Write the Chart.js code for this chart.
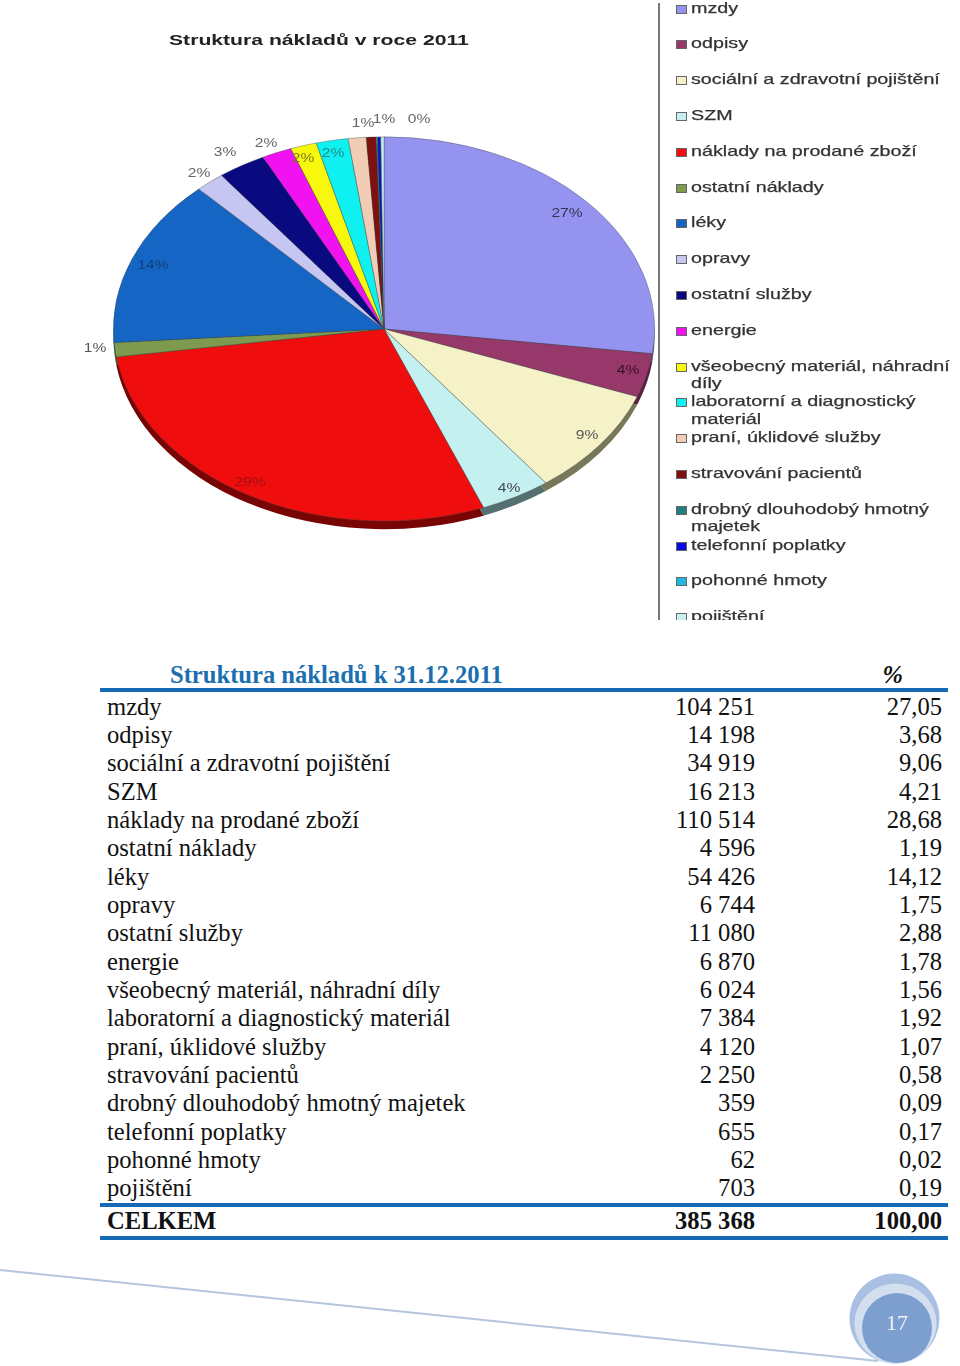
<!DOCTYPE html>
<html lang="cs">
<head>
<meta charset="utf-8">
<title>Struktura nákladů</title>
<script src="https://cdn.jsdelivr.net/npm/chart.js@4"></script>
<style>
    html, body { margin: 0; padding: 0; background: #fff; }
    #page { position: relative; width: 960px; height: 1366px; overflow: hidden; }
    #chartBox { position: absolute; left: 0; top: 0; width: 960px; height: 620px; overflow: hidden; filter: blur(0.45px); }
    #pie { position: absolute; left: 0; top: 0; }
    #divider { position: absolute; left: 658px; top: 3px; width: 2px; height: 617px; background: #777; }
    #pieTitle { position: absolute; left: 169px; top: 31px; font: bold 15px "Liberation Sans", sans-serif; color: #222; white-space: nowrap; transform: scaleX(1.41); transform-origin: left top; }
    .legendRow { position: absolute; left: 676px; height: 36px; font: 14.5px/17.6px "Liberation Sans", sans-serif; color: #333; -webkit-text-stroke: 0.25px #333; }
    .legendRow i { position: absolute; left: 0; top: 5px; width: 9px; height: 7px; border: 1px solid #666; }
    .legendRow span { position: absolute; left: 15px; top: 0; width: 192px; transform: scaleX(1.36); transform-origin: left top; }
    .row { position: absolute; left: 0; width: 960px; height: 28px; font: 24.6px/28px "Liberation Serif", serif; color: #111; white-space: nowrap; }
    .row b, .row u, .row s { position: absolute; top: 0; font-weight: inherit; text-decoration: none; }
    .row b { left: 107px; }
    .row u { right: 205px; }
    .row s { right: 18px; }
    .bold { font-weight: bold; }
    .rule { position: absolute; left: 100px; width: 848px; height: 4px; background: #1669b4; }
    #footer { position: absolute; left: 0; top: 0; }
</style>
</head>
<body>
<div id="page">
    <div id="chartBox">
        <canvas id="pie" width="660" height="620"></canvas>
        <div id="divider"></div>
        <div id="pieTitle">Struktura nákladů v roce 2011</div>
        <div id="legend"></div>
    </div>
    <div id="table"></div>
    <svg id="footer" width="960" height="1366">
        <line x1="0" y1="1270" x2="878" y2="1361" stroke="#b4c6dd" stroke-width="2"/>
        <ellipse cx="894.5" cy="1318.5" rx="45" ry="45" fill="#a9c0e2"/>
        <ellipse cx="895.5" cy="1323.5" rx="41" ry="40" fill="#d3dfef"/>
        <circle cx="897" cy="1328" r="35" fill="#7c9fcf"/>
        <text x="897" y="1330" text-anchor="middle" font-family="Liberation Serif" font-size="22" fill="#eef3fa">17</text>
    </svg>
</div>

<script>
const categories = ["mzdy", "odpisy", "sociální a zdravotní pojištění", "SZM", "náklady na prodané zboží",
    "ostatní náklady", "léky", "opravy", "ostatní služby", "energie", "všeobecný materiál, náhradní díly",
    "laboratorní a diagnostický materiál", "praní, úklidové služby", "stravování pacientů",
    "drobný dlouhodobý hmotný majetek", "telefonní poplatky", "pohonné hmoty", "pojištění"];
const costs = [104251, 14198, 34919, 16213, 110514, 4596, 54426, 6744, 11080, 6870, 6024, 7384, 4120, 2250, 359, 655, 62, 703];
const percents = [27.05, 3.68, 9.06, 4.21, 28.68, 1.19, 14.12, 1.75, 2.88, 1.78, 1.56, 1.92, 1.07, 0.58, 0.09, 0.17, 0.02, 0.19];
const totalCost = 385368;
const totalPercent = 100;

const sliceColors = ["#9494f0", "#96386a", "#f5f2c8", "#c4f0f0", "#f00d0d", "#7e9a4e", "#1565c4", "#c6c6f2", "#0a0a80",
    "#f012f0", "#f8f80f", "#0ff0f0", "#f0cdb4", "#7f1010", "#1f7f80", "#0a0ae0", "#20b8e0", "#c8f0f0"];
const rimColors = ["#55558a", "#5a2040", "#77775a", "#557070", "#780404", "#4a5a30", "#0c3a70", "#70708a", "#050540",
    "#800a80", "#808008", "#088080", "#806a5a", "#400808", "#104040", "#050570", "#106070", "#607878"];

// text, x, y, colour of the percent labels round the pie
const pieLabels = [
    ["27%", 567, 213, "#33335a"], ["4%", 628, 370, "#3a1028"], ["9%", 587, 435, "#555"], ["4%", 509, 488, "#445"],
    ["29%", 250, 482, "#a01010"], ["1%", 95, 348, "#555"], ["14%", 153, 265, "#123f7a"], ["2%", 199, 173, "#666"],
    ["3%", 225, 152, "#666"], ["2%", 266, 143, "#666"], ["2%", 303, 158, "#7a7a20"], ["2%", 333, 153, "#208a8a"],
    ["1%", 363, 123, "#666"], ["1%", 384, 119, "#666"], ["0%", 419, 119, "#666"]
];

const pieSquash = 0.71;
const pieDrop = 3;
const rimDepth = 8;

function squash(ctx, arc, extraY) {
    const cy = arc.y;
    ctx.translate(0, cy + pieDrop + extraY);
    ctx.scale(1, pieSquash);
    ctx.translate(0, -cy);
}

// chart.js only draws round pies, this one is tilted with a rim under it
const tiltPlugin = {
    id: "tilt",
    beforeDatasetsDraw(chart) {
        const ctx = chart.ctx;
        const arcs = chart.getDatasetMeta(0).data;
        ctx.save();
        squash(ctx, arcs[0], rimDepth);
        arcs.forEach((arc, i) => {
            const saved = arc.options;
            arc.options = Object.assign({}, saved, { backgroundColor: rimColors[i], borderWidth: 0 });
            arc.draw(ctx);
            arc.options = saved;
        });
        ctx.restore();
        ctx.save();
        squash(ctx, arcs[0], 0);
    },
    afterDatasetsDraw(chart) {
        const ctx = chart.ctx;
        ctx.restore();
        ctx.font = "13px 'Liberation Sans'";
        ctx.textAlign = "center";
        ctx.textBaseline = "middle";
        pieLabels.forEach(l => {
            ctx.save();
            ctx.translate(l[1], l[2]);
            ctx.scale(1.2, 1);
            ctx.fillStyle = l[3];
            ctx.fillText(l[0], 0, 0);
            ctx.restore();
        });
    }
};

new Chart(document.getElementById("pie"), {
    type: "pie",
    data: {
        labels: categories,
        datasets: [{
            data: costs,
            backgroundColor: sliceColors,
            borderColor: "rgba(60,70,70,0.55)",
            borderWidth: 0.8
        }]
    },
    options: {
        responsive: false,
        animation: false,
        layout: { padding: { left: 113, right: 5, top: 55, bottom: 23 } },
        plugins: { legend: { display: false }, tooltip: { enabled: false } }
    },
    plugins: [tiltPlugin]
});

const legendPitch = 35.8;
categories.forEach((name, i) => {
    const row = document.createElement("div");
    row.className = "legendRow";
    row.style.top = (i * legendPitch - 0.5) + "px";
    row.innerHTML = `<i style="background:${sliceColors[i]}"></i><span>${name}</span>`;
    document.getElementById("legend").appendChild(row);
});

function formatCost(v) {
    return String(v).replace(/\B(?=(\d{3})+$)/g, " ");
}
function formatPercent(v) {
    return v.toFixed(2).replace(".", ",");
}

const table = document.getElementById("table");
function addRow(y, name, cost, percent, cls) {
    const row = document.createElement("div");
    row.className = "row " + (cls || "");
    row.style.top = y + "px";
    row.innerHTML = `<b>${name}</b><u>${cost}</u><s>${percent}</s>`;
    table.appendChild(row);
}
function addRule(y) {
    const rule = document.createElement("div");
    rule.className = "rule";
    rule.style.top = y + "px";
    table.appendChild(rule);
}

const header = document.createElement("div");
header.className = "row bold";
header.style.top = "660.5px";
header.innerHTML = '<b style="left:170px;color:#1b6fb0">Struktura nákladů k 31.12.2011</b><s style="right:57px;font-style:italic">%</s>';
table.appendChild(header);

addRule(688);
categories.forEach((name, i) => {
    addRow(692.5 + i * 28.35, name, formatCost(costs[i]), formatPercent(percents[i]));
});
addRule(1203);
addRow(1206.5, "CELKEM", formatCost(totalCost), formatPercent(totalPercent), "bold");
addRule(1235.5);
</script>
</body>
</html>
